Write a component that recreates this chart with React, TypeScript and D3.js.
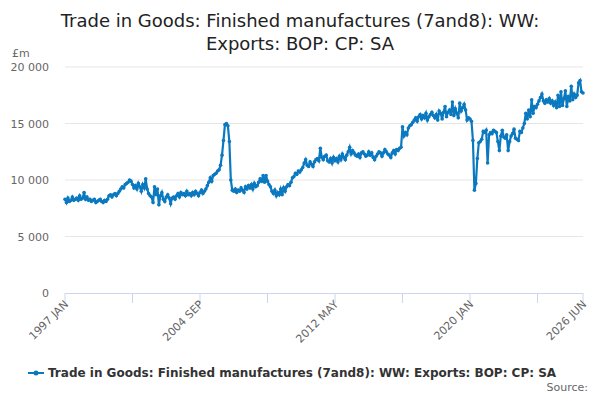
import React, { useRef, useEffect } from 'react'
import * as d3 from 'd3'

// monthly values, £m thousands, 1997 JAN .. 2026 JUN
const yearly: number[][] = [
  [8.3, 8.0, 8.4, 8.1, 8.2, 8.5, 8.2, 8.3, 8.4, 8.2, 8.6, 8.3],
  [8.4, 8.9, 8.3, 8.5, 8.2, 8.3, 8.1, 8.2, 8.3, 8.0, 8.1, 8.2],
  [8.3, 8.1, 8.0, 8.2, 8.1, 8.3, 8.6, 8.7, 8.5, 8.7, 8.8, 8.6],
  [8.8, 9.0, 9.2, 9.4, 9.3, 9.6, 9.7, 9.8, 10.0, 9.9, 9.6, 9.3],
  [9.5, 9.2, 9.7, 9.4, 9.0, 9.6, 9.3, 10.1, 9.2, 8.8, 8.6, 8.5],
  [8.0, 9.4, 8.7, 9.2, 7.8, 8.6, 8.9, 8.3, 8.1, 8.5, 8.7, 8.4],
  [7.9, 8.4, 8.5, 8.3, 8.6, 8.8, 8.5, 8.9, 8.7, 8.8, 8.6, 9.0],
  [8.7, 8.8, 8.6, 8.9, 8.7, 9.0, 8.8, 8.6, 8.9, 9.1, 8.8, 9.0],
  [9.2, 9.5, 9.8, 10.2, 9.9, 10.4, 10.5, 10.6, 10.8, 10.9, 11.3, 12.2],
  [13.5, 14.9, 15.0, 14.8, 13.4, 10.0, 9.1, 9.0, 9.2, 8.9, 9.1, 9.0],
  [9.3, 9.1, 8.9, 9.4, 9.2, 9.5, 9.3, 9.6, 9.2, 9.7, 9.4, 9.5],
  [9.8, 10.1, 9.9, 10.4, 9.8, 10.4, 9.9, 9.6, 9.4, 9.0, 8.8, 9.1],
  [8.6, 8.9, 8.7, 9.2, 8.7, 9.3, 9.0, 9.4, 9.6, 9.5, 9.8, 10.2],
  [10.3, 10.6, 10.5, 10.8, 10.7, 10.9, 11.1, 11.5, 11.8, 11.3, 11.2, 11.6],
  [11.4, 11.2, 11.6, 11.8, 11.9, 11.7, 12.8, 12.0, 11.8, 12.1, 12.2, 11.7],
  [11.6, 11.9, 11.5, 12.0, 11.7, 11.9, 11.6, 12.1, 11.8, 12.3, 12.0, 11.8],
  [12.2, 12.5, 12.9, 12.3, 12.6, 12.4, 12.2, 12.1, 12.3, 12.0, 12.4, 12.5],
  [12.3, 12.1, 12.2, 12.5, 12.2, 12.4, 12.0, 11.8, 12.1, 12.3, 12.5, 12.4],
  [12.1, 12.4, 12.7, 12.5, 12.3, 12.2, 12.0, 12.4, 12.6, 12.3, 12.7, 12.6],
  [12.8, 12.9, 14.7, 13.9, 14.2, 14.0, 14.6, 14.8, 14.9, 15.1, 15.3, 15.5],
  [15.2, 15.6, 15.8, 15.4, 15.7, 15.5, 15.9, 15.3, 15.6, 15.8, 16.0, 15.7],
  [15.5, 15.8, 15.3, 16.1, 15.9, 15.4, 16.0, 16.5, 15.6, 16.0, 16.2, 15.8],
  [16.9, 15.7, 16.3, 15.9, 15.5, 16.8, 16.1, 16.4, 16.7, 16.2, 15.3, 15.5],
  [15.4, 15.2, 13.5, 9.1, 9.7, 11.9, 13.3, 13.4, 13.6, 14.3, 14.2, 14.4],
  [11.5, 14.0, 14.2, 14.1, 14.4, 14.3, 14.2, 13.4, 12.6, 13.9, 14.4, 13.8],
  [13.7, 14.0, 12.6, 13.4, 13.9, 14.1, 14.5, 13.7, 13.6, 13.5, 14.3, 14.2],
  [14.6, 15.0, 15.9, 15.4, 16.2, 15.6, 17.1, 15.9, 16.5, 16.4, 16.7, 17.0],
  [17.3, 17.6, 17.0, 16.8, 17.1, 16.9, 17.2, 16.8, 17.0, 16.6, 16.9, 16.4],
  [17.5, 16.5, 17.8, 16.6, 17.2, 17.9, 16.5, 17.4, 17.0, 18.3, 17.1, 17.6],
  [17.3, 17.5, 18.6, 18.8, 17.8, 17.7],
]
const values: number[] = yearly.flat().map(v => v * 1000)
const monthNames = ['JAN', 'FEB', 'MAR', 'APR', 'MAY', 'JUN', 'JUL', 'AUG', 'SEP', 'OCT', 'NOV', 'DEC']
const labels: string[] = values.map((_, i) => `${1997 + Math.floor(i / 12)} ${monthNames[i % 12]}`)
const labelIdx = [0, 92, 184, 276, 353]
const tickIdx = [0, 46, 92, 138, 184, 230, 276, 322, 353]
const yTicks = [0, 5000, 10000, 15000, 20000]
const seriesName = 'Trade in Goods: Finished manufactures (7and8): WW: Exports: BOP: CP: SA'

function App() {
  const ref = useRef<SVGSVGElement>(null)

  useEffect(() => {
    const svg = d3.select(ref.current)
    svg.selectAll('*').remove()
    const font = 'DejaVu Sans, sans-serif'
    const left = 65, right = 583, top = 67, bottom = 293
    const color = '#0b79c0'

    const x = d3.scaleLinear().domain([0, values.length - 1]).range([left, right])
    const y = d3.scaleLinear().domain([0, 20000]).range([bottom, top])

    // title
    svg.append('text').attr('x', 300).attr('y', 27).attr('text-anchor', 'middle')
      .attr('font-family', font).attr('font-size', 18).attr('fill', '#222')
      .text('Trade in Goods: Finished manufactures (7and8): WW:')
    svg.append('text').attr('x', 300).attr('y', 50).attr('text-anchor', 'middle')
      .attr('font-family', font).attr('font-size', 18).attr('fill', '#222')
      .text('Exports: BOP: CP: SA')
    svg.append('text').attr('x', 12).attr('y', 57).attr('font-family', font)
      .attr('font-size', 11).attr('fill', '#666').text('£m')

    // grid + y labels
    svg.append('g').selectAll('line').data(yTicks.filter(t => t > 0)).join('line')
      .attr('x1', left).attr('x2', right).attr('y1', d => y(d)).attr('y2', d => y(d))
      .attr('stroke', '#e6e6e6')
    svg.append('g').selectAll('text').data(yTicks).join('text')
      .attr('x', 49).attr('y', d => y(d) + 4).attr('text-anchor', 'end')
      .attr('font-family', font).attr('font-size', 11).attr('fill', '#666')
      .text(d => d3.format(',')(d).replace(',', ' '))

    // x axis
    svg.append('line').attr('x1', left).attr('x2', right).attr('y1', bottom + 0.5).attr('y2', bottom + 0.5)
      .attr('stroke', '#ccd6eb')
    svg.append('g').selectAll('line').data(tickIdx).join('line')
      .attr('x1', d => x(d)).attr('x2', d => x(d)).attr('y1', bottom).attr('y2', bottom + 10)
      .attr('stroke', '#ccd6eb')
    svg.append('g').selectAll('text').data(labelIdx).join('text')
      .attr('transform', d => `translate(${x(d) + 4},${bottom + 12}) rotate(-45)`)
      .attr('text-anchor', 'end').attr('font-family', font).attr('font-size', 11).attr('fill', '#666')
      .text(d => labels[d])

    // series
    const line = d3.line<number>().x((_, i) => x(i)).y(d => y(d))
    svg.append('path').datum(values).attr('d', line).attr('fill', 'none')
      .attr('stroke', color).attr('stroke-width', 2.2)
    svg.append('g').selectAll('circle').data(values).join('circle')
      .attr('cx', (_, i) => x(i)).attr('cy', d => y(d)).attr('r', 1.8).attr('fill', color)

    // legend
    svg.append('line').attr('x1', 28).attr('x2', 44).attr('y1', 373).attr('y2', 373)
      .attr('stroke', color).attr('stroke-width', 2)
    svg.append('circle').attr('cx', 36).attr('cy', 373).attr('r', 2.5).attr('fill', color)
    svg.append('text').attr('x', 48).attr('y', 377).attr('font-family', font)
      .attr('font-size', 12).attr('font-weight', 'bold').attr('fill', '#333').text(seriesName)
    svg.append('text').attr('x', 588).attr('y', 391).attr('text-anchor', 'end')
      .attr('font-family', font).attr('font-size', 11).attr('fill', '#666').text('Source:')
  }, [])

  return (
    <div style={{ width: 600, height: 400, margin: -8 }}>
      <svg ref={ref} width={600} height={400} style={{ display: 'block' }}></svg>
    </div>
  )
}

export default App
